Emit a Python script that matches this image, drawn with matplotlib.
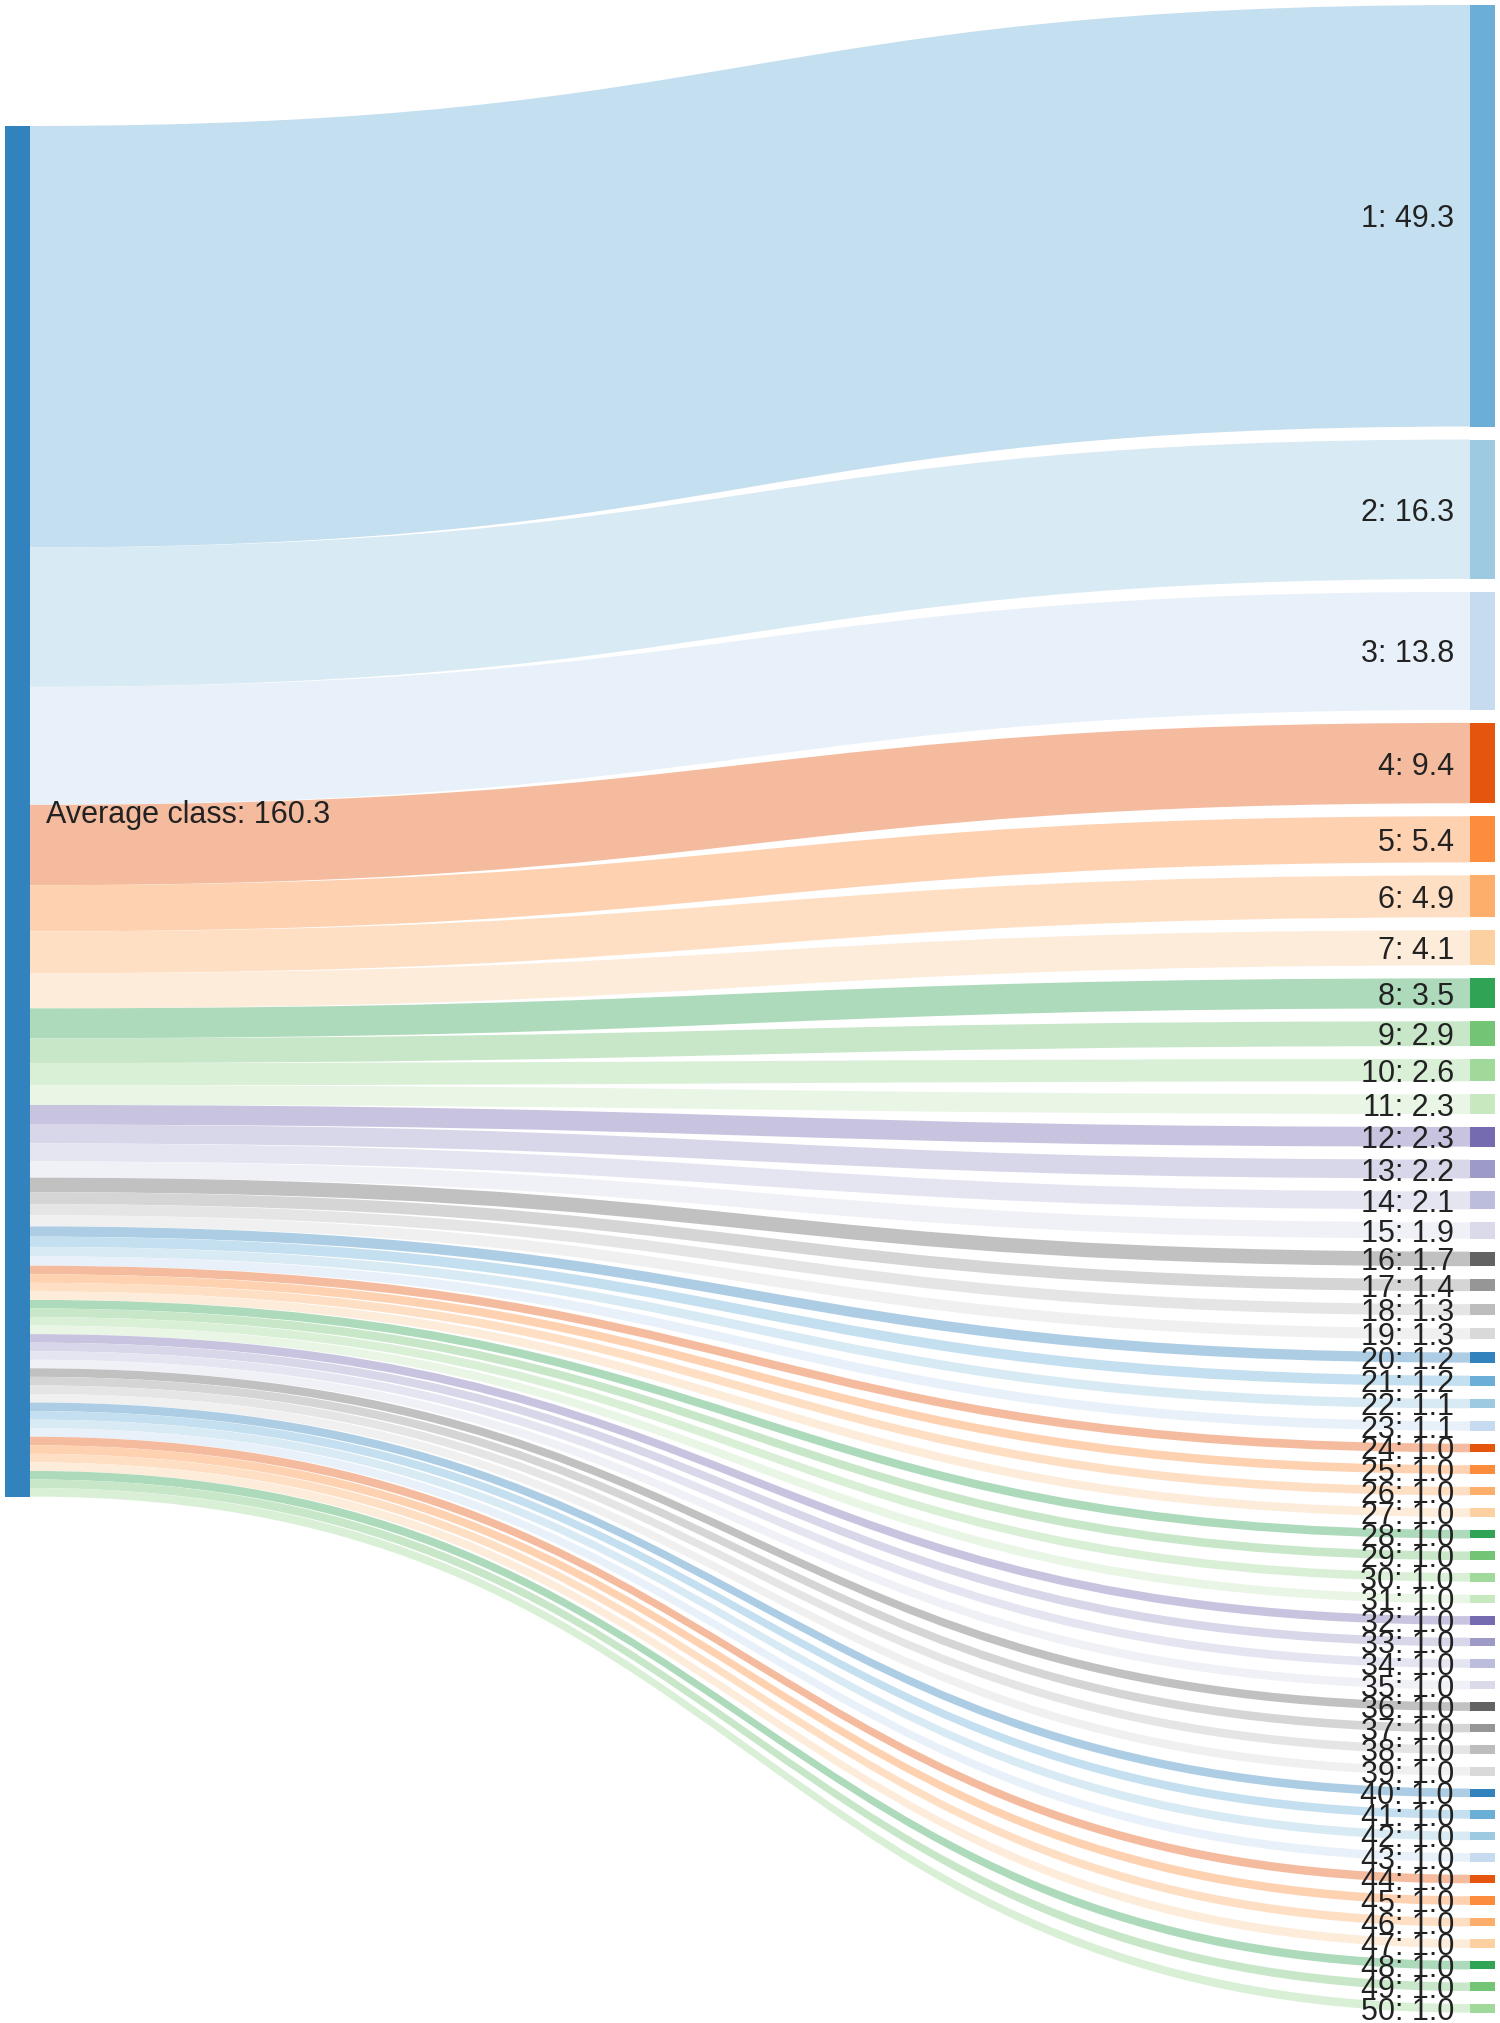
import matplotlib
matplotlib.use("Agg")
import matplotlib.pyplot as plt
from matplotlib.path import Path
from matplotlib.patches import PathPatch, Rectangle
from matplotlib.colors import to_rgb

# data
source_label = "Average class"
source_value = 160.3
classes = list(range(1, 51))
values = [49.3, 16.3, 13.8, 9.4, 5.4, 4.9, 4.1, 3.5, 2.9, 2.6,
          2.3, 2.3, 2.2, 2.1, 1.9, 1.7, 1.4, 1.3, 1.3, 1.2,
          1.2, 1.1, 1.1, 1.0, 1.0, 1.0, 1.0, 1.0, 1.0, 1.0,
          1.0, 1.0, 1.0, 1.0, 1.0, 1.0, 1.0, 1.0, 1.0, 1.0,
          1.0, 1.0, 1.0, 1.0, 1.0, 1.0, 1.0, 1.0, 1.0, 1.0]

palette = plt.get_cmap("tab20c").colors

# layout (pixels)
W, H = 1500, 2023
scale = 8.55          # px per unit
pad = 13.0            # gap between right nodes
node_w = 25
left_x, right_x = 5, 1470
left_top, right_top = 126, 5
link_alpha = 0.4

def light(c, a):
    r, g, b = to_rgb(c)
    return (1 - a + a * r, 1 - a + a * g, 1 - a + a * b)

fig = plt.figure(figsize=(W / 100, H / 100), dpi=100)
ax = fig.add_axes([0, 0, 1, 1])
ax.set_xlim(0, W)
ax.set_ylim(H, 0)
ax.axis("off")

font = ["Liberation Sans", "DejaVu Sans"]

# links + right nodes
y_left = left_top
y_right = right_top
x0 = left_x + node_w
x1 = right_x
xm = (x0 + x1) / 2
for i, (c, v) in enumerate(zip(classes, values)):
    col = palette[c % 20]
    h = v * scale
    verts = [(x0, y_left), (xm, y_left), (xm, y_right), (x1, y_right),
             (x1, y_right + h), (xm, y_right + h), (xm, y_left + h), (x0, y_left + h),
             (x0, y_left)]
    codes = [Path.MOVETO, Path.CURVE4, Path.CURVE4, Path.CURVE4,
             Path.LINETO, Path.CURVE4, Path.CURVE4, Path.CURVE4, Path.CLOSEPOLY]
    ax.add_patch(PathPatch(Path(verts, codes), facecolor=light(col, link_alpha),
                           edgecolor="none", zorder=1 + i * 0.001))
    ax.add_patch(Rectangle((right_x, y_right), node_w, h, facecolor=col,
                           edgecolor="none", zorder=3))
    ax.text(right_x - 16, y_right + h / 2, f"{c}: {v:.1f}", ha="right", va="center_baseline",
            fontsize=22, family=font, color="#222222", zorder=4)
    y_left += h
    y_right += h + pad

# left node
ax.add_patch(Rectangle((left_x, left_top), node_w, source_value * scale,
                       facecolor=palette[0], edgecolor="none", zorder=3))
ax.text(left_x + node_w + 16, left_top + source_value * scale / 2,
        f"{source_label}: {source_value:.1f}", ha="left", va="center_baseline",
        fontsize=22, family=font, color="#222222", zorder=4)

fig.savefig("out.png", dpi=100, facecolor="white")
